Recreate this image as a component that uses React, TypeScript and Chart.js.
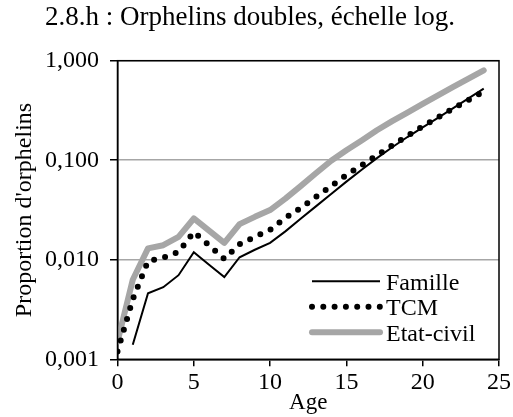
import React, { useEffect, useRef } from "react";
import { Chart, registerables } from "chart.js";

Chart.register(...registerables);

const TITLE = "2.8.h : Orphelins doubles, échelle log.";
const X_TITLE = "Age";
const Y_TITLE = "Proportion d'orphelins";

const ages = [0, 1, 2, 3, 4, 5, 6, 7, 8, 9, 10, 11, 12, 13, 14, 15, 16, 17, 18, 19, 20, 21, 22, 23, 24];

const famille = [null, 0.0014, 0.0046, 0.0053, 0.007, 0.0119, 0.0089, 0.0067, 0.0106, 0.0126, 0.0148,
  0.0193, 0.0258, 0.0344, 0.0458, 0.061, 0.0804, 0.105, 0.135, 0.171, 0.214, 0.267, 0.334, 0.419, 0.525];

const tcm = [0.0012, 0.004, 0.0097, 0.0105, 0.012, 0.019, 0.014, 0.0102, 0.0143, 0.017, 0.02,
  0.0263, 0.0331, 0.0427, 0.055, 0.0708, 0.0891, 0.112, 0.141, 0.176, 0.219, 0.269, 0.331, 0.403, 0.49];

const etatCivil = [0.0015, 0.0063, 0.013, 0.014, 0.017, 0.026, 0.0196, 0.0148, 0.0228, 0.027, 0.0316,
  0.0412, 0.055, 0.0741, 0.0989, 0.126, 0.158, 0.2, 0.247, 0.301, 0.368, 0.449, 0.545, 0.661, 0.8];

const yTicks = [0.001, 0.01, 0.1, 1];
const xTicks = [0, 5, 10, 15, 20, 25];

const SERIF = "'Liberation Serif', 'Times New Roman', serif";
const GRAY = "#a6a6a6";

const frame = {
  id: "frame",
  afterDraw(chart: any) {
    const { ctx, chartArea: a } = chart;
    ctx.save();
    ctx.strokeStyle = "#000";
    ctx.lineWidth = 1.5;
    ctx.strokeRect(a.left, a.top, a.right - a.left, a.bottom - a.top);
    ctx.restore();
  },
};

const legendBox = {
  id: "legendBox",
  afterDraw(chart: any) {
    const { ctx, chartArea: a } = chart;
    const x0 = a.right - 187;
    const x1 = a.right - 119;
    const tx = a.right - 113;
    const rows = [a.bottom - 78, a.bottom - 52.5, a.bottom - 27];
    ctx.save();
    chart.data.datasets.forEach((ds: any, i: number) => {
      const y = rows[i];
      ctx.beginPath();
      ctx.strokeStyle = ds.borderColor;
      ctx.lineWidth = ds.borderWidth;
      ctx.lineCap = ds.borderCapStyle || "butt";
      ctx.setLineDash(ds.borderDash || []);
      ctx.moveTo(x0, y);
      ctx.lineTo(x1, y);
      ctx.stroke();
      ctx.setLineDash([]);
      ctx.fillStyle = "#000";
      ctx.font = `24px ${SERIF}`;
      ctx.textBaseline = "middle";
      ctx.textAlign = "left";
      ctx.fillText(ds.label, tx, y + 2);
    });
    ctx.restore();
  },
};

export default function App() {
  const ref = useRef<HTMLCanvasElement | null>(null);
  useEffect(() => {
    document.body.style.margin = "0";
    if (!ref.current) return;
    const chart = new Chart(ref.current, {
      type: "line",
      data: {
        labels: ages,
        datasets: [
          {
            label: "Famille",
            data: ages.map((a, i) => ({ x: a, y: famille[i] })),
            borderColor: "#000",
            borderWidth: 2,
            pointRadius: 0,
            spanGaps: false,
            tension: 0,
          },
          {
            label: "TCM",
            data: ages.map((a, i) => ({ x: a, y: tcm[i] })),
            borderColor: "#000",
            borderWidth: 6,
            borderDash: [0, 11.3],
            borderCapStyle: "round",
            pointRadius: 0,
            tension: 0,
          },
          {
            label: "Etat-civil",
            data: ages.map((a, i) => ({ x: a, y: etatCivil[i] })),
            borderColor: GRAY,
            borderWidth: 6,
            borderCapStyle: "round",
            borderJoinStyle: "round",
            pointRadius: 0,
            tension: 0,
          },
        ] as any,
      },
      options: {
        animation: false,
        responsive: false,
        maintainAspectRatio: false,
        layout: { padding: { left: 0, right: 13, top: 0, bottom: 0 } },
        plugins: {
          legend: { display: false },
          tooltip: { enabled: false },
          title: {
            display: true,
            text: TITLE,
            color: "#000",
            font: { family: SERIF, size: 27, weight: "normal" },
            padding: { top: 2, bottom: 26.3 },
          },
        },
        scales: {
          x: {
            type: "linear",
            min: 0,
            max: 25,
            afterBuildTicks: (s: any) => {
              s.ticks = xTicks.map((v) => ({ value: v }));
            },
            afterFit: (s: any) => {
              s.height = 57.7;
            },
            ticks: {
              color: "#000",
              font: { family: SERIF, size: 24 },
              padding: 2,
              maxRotation: 0,
            },
            grid: { drawOnChartArea: false, drawTicks: true, tickLength: 7, color: "#000", lineWidth: 1.5 },
            border: { display: true, color: "#000", width: 1.5 },
            title: {
              display: true,
              text: X_TITLE,
              color: "#000",
              font: { family: SERIF, size: 23 },
              padding: { top: 0, bottom: 0 },
            },
          },
          y: {
            type: "logarithmic",
            min: 0.001,
            max: 1,
            afterBuildTicks: (s: any) => {
              s.ticks = yTicks.map((v) => ({ value: v }));
            },
            afterFit: (s: any) => {
              s.width = 117.5;
            },
            ticks: {
              color: "#000",
              font: { family: SERIF, size: 24 },
              padding: 11,
              callback: (v: any) => Number(v).toFixed(3).replace(".", ","),
            },
            grid: {
              drawTicks: true,
              tickLength: 7.5,
              color: GRAY,
              tickColor: "#000",
              lineWidth: 1.5,
            },
            border: { display: true, color: "#000", width: 1.5 },
            title: {
              display: true,
              text: Y_TITLE,
              color: "#000",
              font: { family: SERIF, size: 24 },
              padding: { top: 10, bottom: 0 },
            },
          },
        },
      } as any,
      plugins: [frame, legendBox],
    });
    return () => chart.destroy();
  }, []);
  return (
    <div style={{ position: "absolute", left: 0, top: 0, width: 513, height: 417 }}>
      <canvas ref={ref} width={513} height={417} />
    </div>
  );
}
